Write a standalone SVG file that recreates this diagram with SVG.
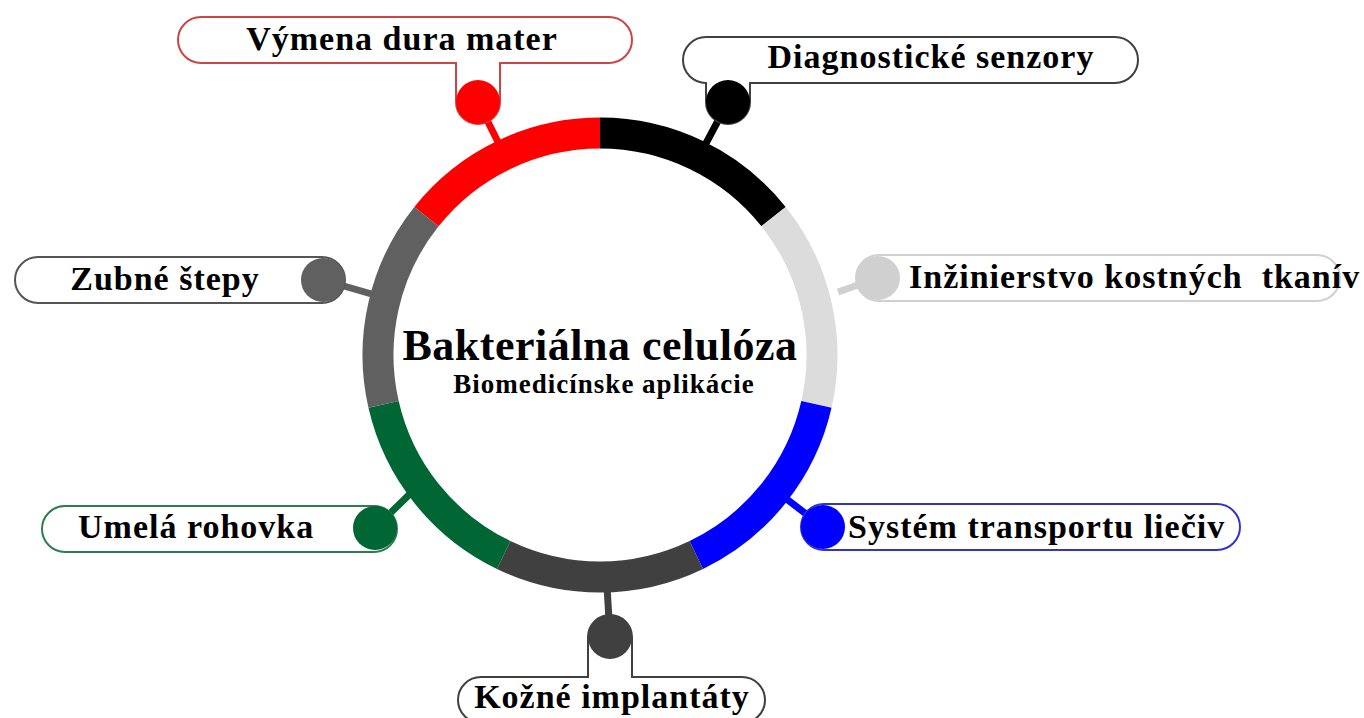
<svg xmlns="http://www.w3.org/2000/svg" width="1364" height="718" viewBox="0 0 1364 718">
<style>
  .lbl{font-family:"Liberation Serif","Times New Roman",serif;font-weight:bold;font-size:34px;letter-spacing:1px;fill:#000}
  .box{fill:#fff;stroke-width:2}
  .seg{fill:none;stroke-width:31}
  .stem{stroke-width:7;fill:none}
</style>
<rect width="1364" height="718" fill="#fff"/>
<g id="connectors">
  <line class="stem" x1="500" y1="146" x2="478" y2="102" stroke="#ff0000"/>
  <line class="stem" x1="704" y1="147" x2="728" y2="102" stroke="#000"/>
  <line class="stem" x1="838" y1="292" x2="878" y2="278" stroke="#d0d0d0"/>
  <line class="stem" x1="784" y1="497" x2="823" y2="527" stroke="#0000ff"/>
  <line class="stem" x1="607" y1="586" x2="610" y2="637" stroke="#404040"/>
  <line class="stem" x1="414" y1="490" x2="375" y2="528" stroke="#006633"/>
  <line class="stem" x1="382" y1="297" x2="323" y2="280" stroke="#606060"/>
</g>
<g id="hub">
  <path class="seg" stroke="#ff0000" d="M426.44,216.58 A222,222 0 0 1 600,133"/>
  <path class="seg" stroke="#000000" d="M600,133 A222,222 0 0 1 773.56,216.58"/>
  <path class="seg" stroke="#dcdcdc" d="M773.56,216.58 A222,222 0 0 1 816.43,404.40"/>
  <path class="seg" stroke="#0000ff" d="M816.43,404.40 A222,222 0 0 1 696.33,555.02"/>
  <path class="seg" stroke="#404040" d="M696.33,555.02 A222,222 0 0 1 503.67,555.02"/>
  <path class="seg" stroke="#006633" d="M503.67,555.02 A222,222 0 0 1 383.57,404.40"/>
  <path class="seg" stroke="#606060" d="M383.57,404.40 A222,222 0 0 1 426.44,216.58"/>
  <text x="600" y="360" text-anchor="middle" style="font-family:'Liberation Serif','Times New Roman',serif;font-weight:bold;font-size:44px;letter-spacing:0.5px">Bakteriálna celulóza</text>
  <text x="604" y="393" text-anchor="middle" style="font-family:'Liberation Serif','Times New Roman',serif;font-weight:bold;font-size:27px;letter-spacing:1px">Biomedicínske aplikácie</text>
</g>
<g id="node-dura">
  <path class="box" stroke="#cc4444" d="M201,17 H609 A23,23 0 0 1 609,63 H500 V102 A22,22 0 0 1 456,102 V63 H201 A23,23 0 0 1 201,17 Z"/>
  <circle cx="478" cy="102" r="22" fill="#ff0000"/>
  <text class="lbl" x="402" y="50" text-anchor="middle">Výmena dura mater</text>
</g>
<g id="node-senzory">
  <path class="box" stroke="#404040" d="M706,37 H1115 A23,23 0 0 1 1115,83 H750 V102 A22,22 0 0 1 706,102 V83 A23,23 0 0 1 706,37 Z"/>
  <circle cx="728" cy="102" r="22" fill="#000"/>
  <text class="lbl" x="931" y="68" text-anchor="middle">Diagnostické senzory</text>
</g>
<g id="node-kost">
  <rect class="box" stroke="#d0d0d0" x="856" y="255" width="484" height="46" rx="23"/>
  <circle cx="878" cy="278" r="22" fill="#d0d0d0"/>
  <text class="lbl" x="909" y="288" xml:space="preserve">Inžinierstvo kostných  tkanív</text>
</g>
<g id="node-liecivo">
  <rect class="box" stroke="#3333cc" x="801" y="504" width="439" height="46" rx="23"/>
  <circle cx="823" cy="527" r="22" fill="#0000ff"/>
  <text class="lbl" x="848" y="538">Systém transportu liečiv</text>
</g>
<g id="node-koza">
  <path class="box" stroke="#404040" d="M481,677 H588 V637 A22,22 0 0 1 632,637 V677 H742 A23,23 0 0 1 742,723 H481 A23,23 0 0 1 481,677 Z"/>
  <circle cx="610" cy="637" r="22" fill="#404040"/>
  <text class="lbl" x="612" y="708" text-anchor="middle">Kožné implantáty</text>
</g>
<g id="node-rohovka">
  <rect class="box" stroke="#2e7d4f" x="42" y="506" width="355" height="46" rx="23"/>
  <circle cx="375" cy="528" r="22" fill="#006633"/>
  <text class="lbl" x="78" y="538">Umelá rohovka</text>
</g>
<g id="node-zuby">
  <rect class="box" stroke="#555555" x="15" y="257" width="330" height="46" rx="23"/>
  <circle cx="323" cy="280" r="22" fill="#606060"/>
  <text class="lbl" x="165" y="290" text-anchor="middle">Zubné štepy</text>
</g>
</svg>
